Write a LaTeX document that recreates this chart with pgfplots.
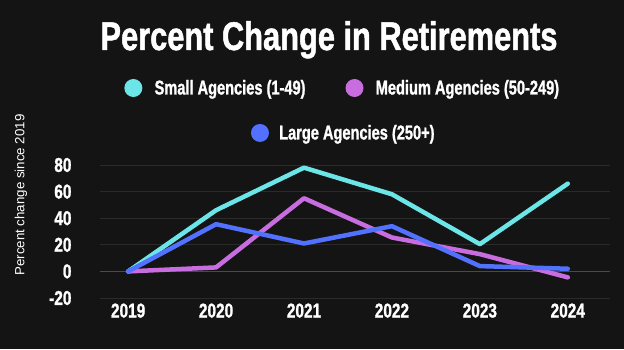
\documentclass[border=0pt]{standalone}
\usepackage{fontspec}
\usepackage{pgfplots}
\pgfplotsset{compat=1.18}
\setmainfont{Liberation Sans}
\newfontfamily\cond[FakeStretch=0.77, BoldFeatures={FakeBold=1.2}]{Liberation Sans}
\newfontfamily\condl[FakeStretch=0.73, BoldFeatures={FakeBold=1.2}]{Liberation Sans}
\definecolor{bg}{HTML}{141414}
\definecolor{csmall}{HTML}{6CE5E8}
\definecolor{cmed}{HTML}{C86DE0}
\definecolor{clarge}{HTML}{5271FF}
\definecolor{gridc}{HTML}{2A2A2A}
\definecolor{zeroc}{HTML}{4A4A4A}

\pgfplotstableread{
x small medium large
0 0 0 0
1 46 3 35.5
2 78 55 21
3 58 25.5 34
4 20.5 13 4
5 66 -4.5 2
}\datatable

\begin{document}
\begin{tikzpicture}[x=1pt,y=1pt]
\fill[bg] (0,0) rectangle (624,349);
\useasboundingbox (0,0) rectangle (624,349);
\node[white, font=\cond\bfseries\fontsize{40}{40}\selectfont, anchor=base] at (329,299) {Percent Change in Retirements};
\node[white, rotate=90, font=\fontsize{13.3}{14}\selectfont] at (21,154) {Percent change since 2019};
\begin{axis}[
  at={(100pt,51pt)}, anchor=south west, scale only axis,
  width=510pt, height=133pt,
  xmin=-0.32, xmax=5.48, ymin=-20, ymax=80,
  clip=false,
  axis line style={draw=none},
  major tick length=0pt,
  xtick={0,1,2,3,4,5},
  xticklabels={2019,2020,2021,2022,2023,2024},
  ytick={-20,0,20,40,60,80},
  ymajorgrids,
  grid style={gridc, line width=1pt},
  /pgf/number format/assume math mode=true,
  ticklabel style={font=\cond\bfseries\fontsize{20}{20}\selectfont, text=white},
  yticklabel style={xshift=-25pt},
  xticklabel style={yshift=-2pt},
  legend columns=2,
  legend style={at={(0.476,1.579)}, anchor=center, draw=none, fill=none,
    text=white, font=\condl\bfseries\fontsize{20}{20}\selectfont,
    /tikz/every even column/.append style={column sep=38pt}},
  legend image code/.code={\fill[draw=none] (0pt,0pt) circle (9pt); \path (17pt,0pt);},
  every axis plot/.append style={line width=4.5pt, line join=round, line cap=round},
]
\draw[zeroc, line width=1.2pt] (axis cs:-0.32,0) -- (axis cs:5.48,0);
\addplot[csmall] table[x=x, y=small] {\datatable};
\addlegendentry{Small Agencies (1-49)}
\addplot[cmed] table[x=x, y=medium] {\datatable};
\addlegendentry{Medium Agencies (50-249)}
\addplot[clarge, forget plot] table[x=x, y=large] {\datatable};
\end{axis}
\begin{axis}[
  at={(100pt,51pt)}, anchor=south west, scale only axis,
  width=510pt, height=133pt,
  xmin=-0.32, xmax=5.48, ymin=-20, ymax=80,
  hide axis,
  legend style={at={(0.478,1.241)}, anchor=center, draw=none, fill=none,
    text=white, font=\condl\bfseries\fontsize{20}{20}\selectfont},
  legend image code/.code={\fill[draw=none] (0pt,0pt) circle (9pt); \path (17pt,0pt);},
]
\addlegendimage{clarge}
\addlegendentry{Large Agencies (250+)}
\end{axis}
\end{tikzpicture}
\end{document}
